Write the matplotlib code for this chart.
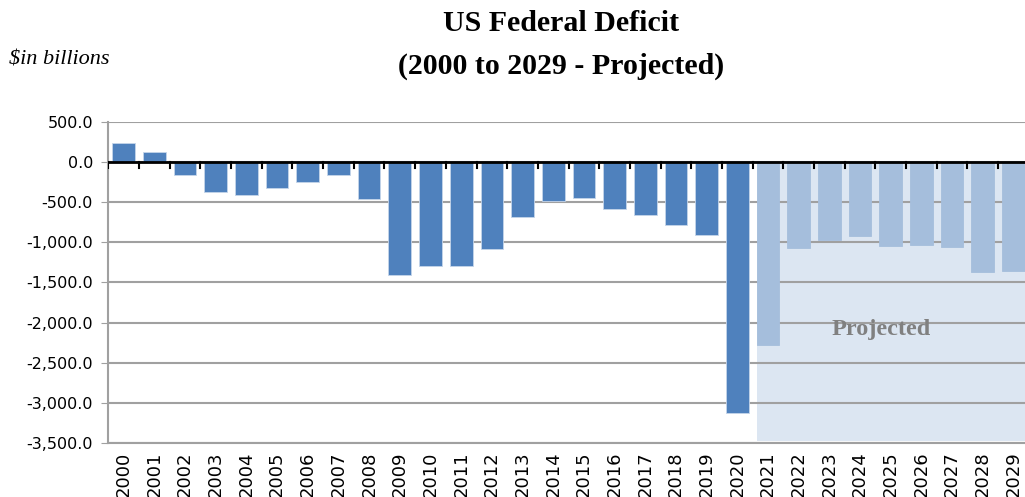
#!/usr/bin/env python3
"""
US Federal Deficit bar chart, 2000 to 2029 (projected years shaded).
"""

import matplotlib
matplotlib.use("Agg")
import matplotlib.pyplot as plt
from matplotlib.ticker import FuncFormatter

# Data ($ billions)
years = [str(y) for y in range(2000, 2030)]
actual_years = years[:21]          # 2000 - 2020
projected_years = years[21:]       # 2021 - 2029
actual_values = [236, 128, -158, -378, -413, -318, -248, -161, -459, -1413,
                 -1294, -1300, -1087, -680, -485, -442, -585, -665, -779, -905,
                 -3132]
projected_values = [-2280, -1074, -974, -924, -1049, -1037, -1062, -1373, -1361]

DARK_BLUE = "#4F81BD"
LIGHT_BLUE = "#A5BEDC"
SHADE = "#DCE6F2"
GRID = "#A0A0A0"


def main():
    fig = plt.figure(figsize=(10.25, 4.97), dpi=100)
    ax = fig.add_axes([0.1057, 0.1087, 0.898, 0.6459])

    x_act = list(range(len(actual_years)))
    x_proj = list(range(len(actual_years), len(years)))

    # shaded "projected" zone
    ax.axvspan(20.63, 29.6, ymin=(-3480 + 3500) / 4000, ymax=3500 / 4000,
               color=SHADE, lw=0, zorder=0.2)

    ax.bar(x_act, actual_values, width=0.74, color=DARK_BLUE,
           edgecolor="#C5D5EA", linewidth=0.6, zorder=2)
    ax.bar(x_proj, projected_values, width=0.74, color=LIGHT_BLUE,
           edgecolor=LIGHT_BLUE, linewidth=0.6, zorder=2)

    # zero line with category tick marks
    ax.axhline(0, color="black", lw=2, zorder=3)
    for i in range(len(years) + 1):
        ax.plot([i - 0.5, i - 0.5], [0, -75], color="black", lw=1.5, zorder=3)

    ax.set_xlim(-0.5, 29.5)
    ax.set_ylim(-3500, 500)
    ax.set_yticks(range(-3500, 501, 500))
    ax.yaxis.set_major_formatter(FuncFormatter(lambda v, p: f"{v:,.1f}"))
    ax.set_xticks(range(len(years)))
    ax.set_xticklabels(years, rotation=90, fontsize=13, family="DejaVu Sans")
    ax.tick_params(axis="x", length=0, pad=6)
    ax.tick_params(axis="y", length=5, color=GRID, labelsize=11.5, pad=6)

    ax.set_axisbelow(True)
    ax.grid(axis="y", color=GRID, lw=1.5)
    for side in ["top", "right"]:
        ax.spines[side].set_visible(False)
    for side in ["left", "bottom"]:
        ax.spines[side].set_color(GRID)
        ax.spines[side].set_linewidth(1.5)

    ax.text(24.7, -2090, "Projected", ha="center", va="center", fontsize=17.5,
            fontweight="bold", color="#808080", family="Liberation Serif",
            zorder=4)

    fig.text(0.5475, 0.953, "US Federal Deficit", ha="center", va="center",
             fontsize=21.5, fontweight="bold", family="Liberation Serif")
    fig.text(0.5475, 0.866, "(2000 to 2029 - Projected)", ha="center",
             va="center", fontsize=21.5, fontweight="bold",
             family="Liberation Serif")
    fig.text(0.009, 0.88, "$in billions", ha="left", va="center",
             fontsize=16, style="italic", family="Liberation Serif")

    fig.savefig("out.png", dpi=100)


if __name__ == "__main__":
    main()
